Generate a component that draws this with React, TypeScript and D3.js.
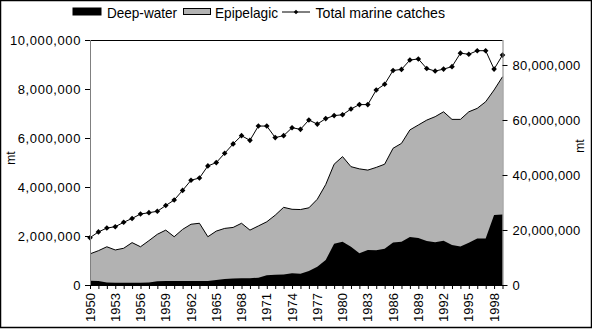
import React from "react";
import * as d3 from "d3";

const years: number[] = d3.range(1950, 2000);
const deepWater: number[] = [
  0.17, 0.16, 0.1, 0.09, 0.09, 0.09, 0.09, 0.1, 0.15, 0.16,
  0.16, 0.16, 0.16, 0.16, 0.16, 0.2, 0.24, 0.27, 0.28, 0.28,
  0.3, 0.4, 0.42, 0.43, 0.48, 0.46, 0.57, 0.75, 1.02, 1.68,
  1.77, 1.56, 1.3, 1.43, 1.42, 1.48, 1.73, 1.77, 1.96, 1.92,
  1.8, 1.74, 1.81, 1.63, 1.57, 1.72, 1.9, 1.9, 2.86, 2.88,
].map((v) => v * 1e6);
const epipelagic: number[] = [
  1.27, 1.4, 1.56, 1.43, 1.5, 1.73, 1.56, 1.81, 2.07, 2.24,
  1.97, 2.27, 2.48, 2.52, 1.97, 2.2, 2.31, 2.35, 2.52, 2.24,
  2.41, 2.58, 2.85, 3.17, 3.09, 3.08, 3.15, 3.5, 4.1, 4.93,
  5.24, 4.83, 4.74, 4.69, 4.8, 4.93, 5.58, 5.78, 6.33, 6.53,
  6.73, 6.87, 7.07, 6.76, 6.76, 7.07, 7.21, 7.48, 7.96, 8.5,
].map((v) => v * 1e6);
const totalCatches: number[] = [
  17.2, 19.3, 20.7, 21.2, 22.8, 24.2, 25.8, 26.3, 26.8, 28.9,
  30.9, 34.4, 38.1, 38.9, 43.3, 44.5, 47.9, 51.3, 54.3, 52.6,
  57.8, 57.8, 53.6, 54.3, 57.2, 56.6, 60.0, 58.5, 60.5, 61.6,
  61.9, 64.0, 65.6, 65.6, 70.9, 73.0, 78.0, 78.4, 81.8, 82.2,
  78.7, 77.8, 78.5, 79.4, 84.3, 83.9, 85.2, 85.2, 78.5, 83.6,
].map((v) => v * 1e6);
const leftTicks: number[] = [0, 2e6, 4e6, 6e6, 8e6, 10e6];
const rightTicks: number[] = [0, 20e6, 40e6, 60e6, 80e6];
const yearLabels: number[] = d3.range(1950, 2000, 3);
const legendLabels: string[] = ["Deep-water", "Epipelagic", "Total marine catches"];

const W = 592;
const H = 329;
const left = 90;
const right = 502.5;
const top = 40;
const bottom = 285;

export default function App() {
  const x = d3.scaleLinear().domain([1950, 1999]).range([left, right]);
  const yL = d3.scaleLinear().domain([0, 10e6]).range([bottom, top]);
  const yR = d3.scaleLinear().domain([0, 89.09e6]).range([bottom, top]);
  const fmt = d3.format(",");
  const font = "'Liberation Sans', Arial, sans-serif";

  const areaGray = d3
    .area<number>()
    .x((_, i) => x(years[i]))
    .y0(yL(0))
    .y1((d) => yL(d))(epipelagic) as string;
  const lineGray = d3
    .line<number>()
    .x((_, i) => x(years[i]))
    .y((d) => yL(d))(epipelagic) as string;
  const areaBlack = d3
    .area<number>()
    .x((_, i) => x(years[i]))
    .y0(yL(0))
    .y1((d) => yL(d))(deepWater) as string;
  const lineTotal = d3
    .line<number>()
    .x((_, i) => x(years[i]))
    .y((d) => yR(d))(totalCatches) as string;

  const diamond = (cx: number, cy: number, r = 2.8) =>
    `M${cx},${cy - r}L${cx + r},${cy}L${cx},${cy + r}L${cx - r},${cy}Z`;

  return (
    <svg
      width={W}
      height={H}
      style={{ position: "absolute", left: 0, top: 0, background: "#fff" }}
    >
      <rect x={0.5} y={0.5} width={W - 1} height={H - 2} fill="#fff" stroke="#000" strokeWidth={1.5} />

      {/* Legend */}
      <g fontFamily={font} fontSize={15} fill="#000">
        <rect x={73} y={8} width={28} height={7} fill="#000" stroke="#000" />
        <text x={107} y={17.5} textLength={70} lengthAdjust="spacingAndGlyphs">{legendLabels[0]}</text>
        <rect x={183.5} y={8.5} width={27} height={6} fill="#b2b2b2" stroke="#000" />
        <text x={215} y={17.5} textLength={63} lengthAdjust="spacingAndGlyphs">{legendLabels[1]}</text>
        <line x1={282} x2={310} y1={12} y2={12} stroke="#000" />
        <path d={diamond(296, 12, 2.2)} fill="#000" />
        <text x={315.5} y={17.5} textLength={129.5} lengthAdjust="spacingAndGlyphs">{legendLabels[2]}</text>
      </g>

      {/* Areas */}
      <path d={areaGray} fill="#b2b2b2" />
      <path d={lineGray} fill="none" stroke="#000" strokeWidth={1} />
      <path d={areaBlack} fill="#000" />

      {/* Total line */}
      <path d={lineTotal} fill="none" stroke="#000" strokeWidth={1} />
      {totalCatches.map((v, i) => (
        <path key={i} d={diamond(x(years[i]), yR(v))} fill="#000" />
      ))}

      {/* Frame */}
      <line x1={left} x2={right} y1={top + 0.5} y2={top + 0.5} stroke="#000" />
      <line x1={left + 0.5} x2={left + 0.5} y1={top} y2={bottom} stroke="#808080" />
      <line x1={right + 0.5} x2={right + 0.5} y1={top} y2={bottom} stroke="#808080" />
      <line x1={left} x2={right + 1} y1={bottom + 0.5} y2={bottom + 0.5} stroke="#000" />

      {/* Left axis */}
      <g fontFamily={font} fontSize={13} fill="#000">
        {leftTicks.map((t) => (
          <g key={t}>
            <line x1={left - 5} x2={left} y1={yL(t) + 0.5} y2={yL(t) + 0.5} stroke="#000" />
            <text x={left - 9} y={yL(t)} dy="0.35em" textAnchor="end" letterSpacing={0.6}>
              {fmt(t)}
            </text>
          </g>
        ))}
        <text transform={`translate(15,158) rotate(-90)`} textAnchor="middle" fontSize={12}>
          mt
        </text>
      </g>

      {/* Right axis */}
      <g fontFamily={font} fontSize={13} fill="#000">
        {rightTicks.map((t) => (
          <g key={t}>
            <line x1={right} x2={right + 5} y1={yR(t) + 0.5} y2={yR(t) + 0.5} stroke="#000" />
            <text x={right + 10} y={yR(t)} dy="0.35em" textAnchor="start" letterSpacing={0.3}>
              {fmt(t)}
            </text>
          </g>
        ))}
        <text transform={`translate(584,146) rotate(-90)`} textAnchor="middle" fontSize={12}>
          mt
        </text>
      </g>

      {/* X axis */}
      <g fontFamily={font} fontSize={13} fill="#000">
        {years.map((yr) => (
          <line key={yr} x1={x(yr) + 0.5} x2={x(yr) + 0.5} y1={bottom} y2={bottom + 4} stroke="#000" />
        ))}
        {yearLabels.map((yr) => (
          <text
            key={yr}
            transform={`translate(${x(yr)},${bottom + 8}) rotate(-90)`}
            textAnchor="end"
            dy="0.35em"
          >
            {yr}
          </text>
        ))}
      </g>
    </svg>
  );
}
